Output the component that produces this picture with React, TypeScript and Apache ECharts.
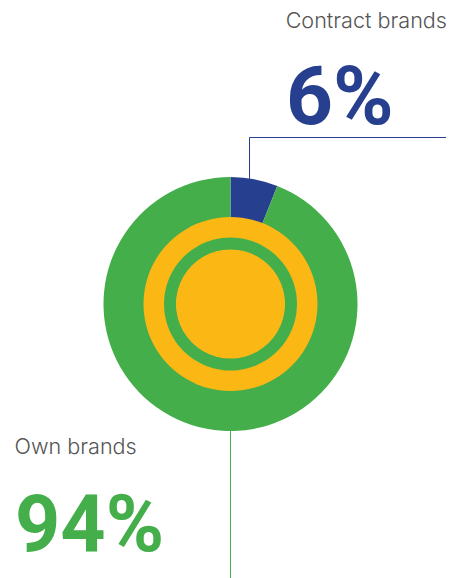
import React, { useEffect, useRef } from "react";
import * as echarts from "echarts";

const categories = ["Contract brands", "Own brands"];
const values = [6, 94];
const colors = ["#263f8e", "#43ae4a"];
const YELLOW = "#fbb714";

export default function App() {
  const ref = useRef<HTMLDivElement>(null);
  useEffect(() => {
    document.body.style.margin = "0";
    const chart = echarts.init(ref.current!, null, { renderer: "svg" });
    const cx = 230.5;
    const cy = 304;
    const outerR = 127;
    const pieBase = {
      type: "pie",
      center: [cx, cy],
      startAngle: 90,
      clockwise: true,
      silent: true,
      label: { show: false },
      labelLine: { show: false },
      emphasis: { disabled: true },
    };
    chart.setOption({
      animation: false,
      series: [
        {
          ...pieBase,
          radius: [86, outerR],
          data: categories.map((name, i) => ({
            name,
            value: values[i],
            itemStyle: { color: colors[i], borderWidth: 0 },
          })),
        },
        {
          ...pieBase,
          radius: [66, 87],
          data: [{ name: "ring1", value: 1, itemStyle: { color: YELLOW } }],
        },
        {
          ...pieBase,
          radius: [54, 66.5],
          data: [{ name: "ring2", value: 1, itemStyle: { color: colors[1] } }],
        },
        {
          ...pieBase,
          radius: [0, 54.5],
          data: [{ name: "core", value: 1, itemStyle: { color: YELLOW } }],
        },
      ],
      graphic: [
        {
          type: "polyline",
          shape: { points: [[249.5, cy - outerR + 2], [249.5, 137.5], [446, 137.5]] },
          style: { stroke: colors[0], lineWidth: 1, fill: null },
          silent: true,
        },
        {
          type: "line",
          shape: { x1: 230.5, y1: cy + outerR - 2, x2: 230.5, y2: 578 },
          style: { stroke: colors[1], lineWidth: 1 },
          silent: true,
        },
        {
          type: "text",
          x: 447,
          y: 19.5,
          style: {
            text: categories[0],
            font: "300 21.6px Inter",
            fill: "#555555",
            align: "right",
            verticalAlign: "middle",
          },
        },
        {
          type: "text",
          x: 286,
          y: 96,
          style: {
            text: `${values[0]}%`,
            font: "bold 82px Roboto",
            fill: colors[0],
            align: "left",
            verticalAlign: "middle",
          },
        },
        {
          type: "text",
          x: 14.5,
          y: 446,
          style: {
            text: categories[1],
            font: "300 21.6px Inter",
            fill: "#555555",
            align: "left",
            verticalAlign: "middle",
          },
        },
        {
          type: "text",
          x: 15,
          y: 524,
          style: {
            text: `${values[1]}%`,
            font: "bold 79px Roboto",
            fill: colors[1],
            align: "left",
            verticalAlign: "middle",
          },
        },
      ],
    });
    return () => chart.dispose();
  }, []);
  return <div ref={ref} style={{ width: 466, height: 578 }} />;
}
